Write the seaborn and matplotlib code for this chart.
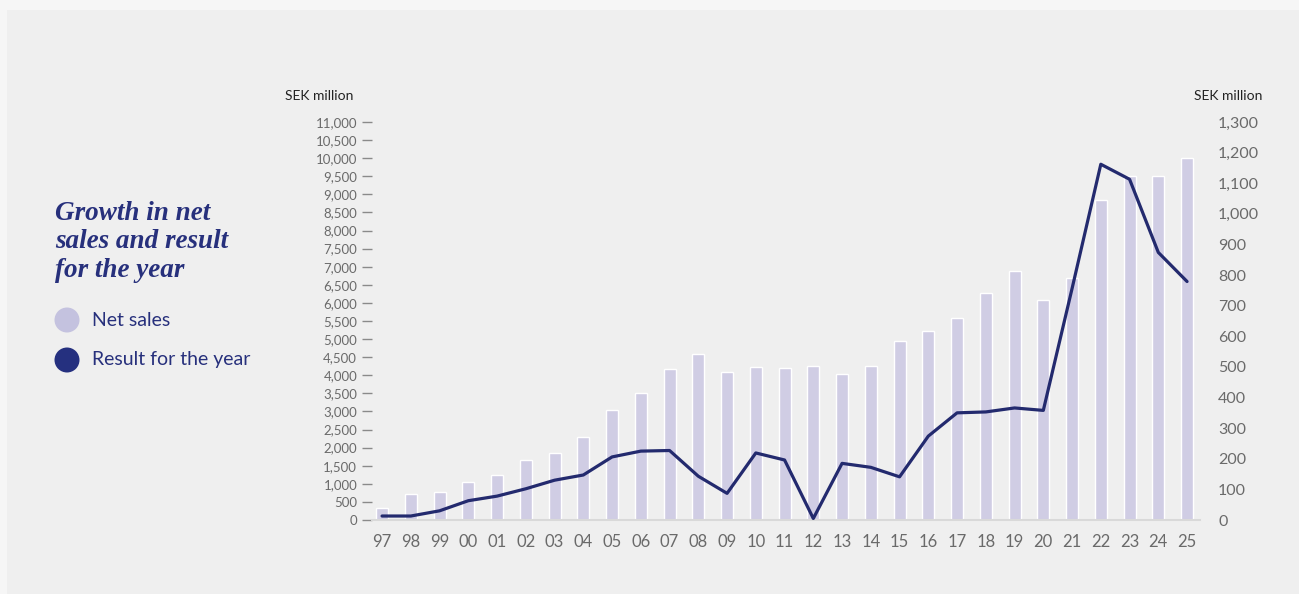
import matplotlib
matplotlib.use("Agg")
import matplotlib.pyplot as plt
from matplotlib.patches import Rectangle, Circle
from matplotlib.ticker import FuncFormatter
import seaborn as sns
import pandas as pd
import numpy as np

years = ["97", "98", "99", "00", "01", "02", "03", "04", "05", "06", "07", "08", "09", "10",
         "11", "12", "13", "14", "15", "16", "17", "18", "19", "20", "21", "22", "23", "24", "25"]
net_sales = [330, 710, 780, 1040, 1250, 1660, 1860, 2290, 3030, 3510, 4160, 4580, 4080, 4230,
             4210, 4250, 4040, 4250, 4950, 5220, 5580, 6280, 6890, 6080, 6680, 8840, 9510, 9510, 10000]
result = [13, 13, 30, 63, 78, 102, 130, 147, 206, 225, 227, 143, 87, 219,
          196, 5, 185, 172, 141, 274, 350, 353, 366, 358, 756, 1162, 1113, 874, 779]

left_ticks = list(range(0, 11001, 500))
right_ticks = list(range(0, 1301, 100))

title = "Growth in net\nsales and result\nfor the year"
legend_labels = ["Net sales", "Result for the year"]
unit_label = "SEK million"

BAR = "#d0cde4"
LINE = "#232a6e"
NAVY = "#27307c"
TICK = "#6a6a6a"

df = pd.DataFrame({"year": years, "net_sales": net_sales, "result": result})

sns.set_theme(style="white")
plt.rcParams["font.family"] = ["Lato", "DejaVu Sans"]

W, H = 1299, 594
fig = plt.figure(figsize=(W / 100, H / 100), dpi=100)
fig.patch.set_facecolor("#f6f6f6")
fig.patches.append(Rectangle((7 / W, 0), 1 - 7 / W, (H - 10) / H, transform=fig.transFigure,
                             facecolor="#efefef", edgecolor="none", zorder=-10))

ax_l, ax_r = 372 / W, 1200 / W
ax_b, ax_t = (H - 520) / H, (H - 122) / H
ax = fig.add_axes([ax_l, ax_b, ax_r - ax_l, ax_t - ax_b])
ax.set_facecolor("none")

sns.barplot(data=df, x="year", y="net_sales", order=years, color=BAR, width=0.42,
            saturation=1, ax=ax, zorder=1)

ax2 = ax.twinx()
sns.pointplot(data=df, x="year", y="result", order=years, color=LINE, markers="",
              linewidth=2.3, ax=ax2)

n = len(years)
ax.set_xlim(-0.35, n - 1 + 0.45)
ax2.set_xlim(-0.35, n - 1 + 0.45)
ax.set_ylim(0, 11000)
ax2.set_ylim(0, 1300)

fmt = FuncFormatter(lambda v, p: f"{int(v):,}")
ax.set_yticks(left_ticks)
ax.yaxis.set_major_formatter(fmt)
ax2.set_yticks(right_ticks)
ax2.yaxis.set_major_formatter(fmt)

ax.set_xlabel("")
ax.set_ylabel("")
ax2.set_xlabel("")
ax2.set_ylabel("")

for s in ["top", "right", "left"]:
    ax.spines[s].set_visible(False)
for s in ["top", "right", "left", "bottom"]:
    ax2.spines[s].set_visible(False)
ax.spines["bottom"].set_color("#d9d9d9")
ax.spines["bottom"].set_linewidth(1.5)

ax.tick_params(axis="y", which="major", direction="out", length=7.2, width=1.0,
               color="#8a8a8a", pad=3.5, labelsize=9.5, labelcolor=TICK, left=True)
for t in ax.yaxis.get_major_ticks()[:2]:
    t.tick1line.set_color("#7d84c2")
ax.tick_params(axis="x", length=0, pad=10, labelsize=12, labelcolor=TICK)
ax2.tick_params(axis="y", length=0, pad=13, labelsize=11.5, labelcolor=TICK, right=False)

fig.text(285 / W, (H - 96) / H, unit_label, ha="left", va="center", fontsize=10, color="#222222")
fig.text(1262 / W, (H - 96) / H, unit_label, ha="right", va="center", fontsize=10, color="#222222")

fig.text(55 / W, (H - 242) / H, title, ha="left", va="center", fontsize=19.5,
         family=["Liberation Serif", "DejaVu Serif"], style="italic", weight="bold",
         color=NAVY, linespacing=1.17)

for i, (lab, col) in enumerate(zip(legend_labels, [BAR, NAVY])):
    yc = 320 + 40 * i
    fig.patches.append(Circle((67, H - yc), 12.5, transform=None, facecolor="#c4c2df" if i == 0 else "#25307f",
                              edgecolor="none"))
    fig.text(92 / W, (H - yc) / H, lab, ha="left", va="center", fontsize=14, color=NAVY)

fig.savefig("out.png", dpi=100, facecolor=fig.get_facecolor())
